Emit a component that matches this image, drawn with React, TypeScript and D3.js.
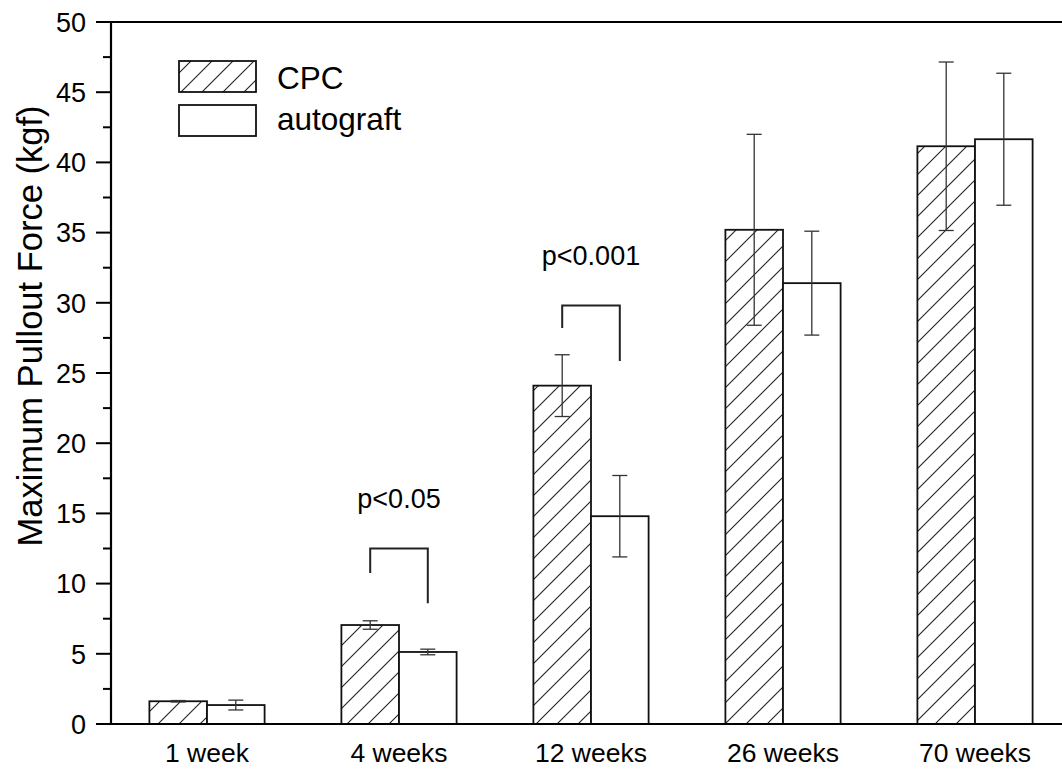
import React from 'react';
import * as d3 from 'd3';

// data
const weeks = ['1 week', '4 weeks', '12 weeks', '26 weeks', '70 weeks'];
const cpcMean = [1.62, 7.05, 24.1, 35.2, 41.15];
const cpcErr = [0.05, 0.3, 2.2, 6.8, 6.0];
const autoMean = [1.35, 5.13, 14.8, 31.4, 41.65];
const autoErr = [0.35, 0.2, 2.9, 3.7, 4.7];
const yTicks = [0, 5, 10, 15, 20, 25, 30, 35, 40, 45, 50];
const yMinor = [2.5, 7.5, 12.5, 17.5, 22.5, 27.5, 32.5, 37.5, 42.5, 47.5];
// significance brackets: category index, top, left end, right end, label
const sigIdx = [1, 2];
const sigTop = [12.5, 29.8];
const sigLeft = [10.75, 28.2];
const sigRight = [8.6, 25.85];
const sigLabel = ['p<0.05', 'p<0.001'];

const W = 1062;
const H = 769;
const margin = { top: 22, left: 111, bottom: 45 };
const plotW = 960;

export default function App() {
  const x = d3.scaleBand<string>()
    .domain(weeks)
    .range([margin.left, margin.left + plotW])
    .paddingInner(0.4)
    .paddingOuter(0.2);
  const y = d3.scaleLinear().domain([0, 50]).range([H - margin.bottom, margin.top]);
  const bw = x.bandwidth() / 2;
  const font = '"Liberation Sans", Arial, sans-serif';

  const bar = (i: number, k: number, v: number, e: number, hatch: boolean) => {
    const x0 = (x(weeks[i]) as number) + k * bw;
    const cx = x0 + bw / 2;
    return (
      <g key={`${i}-${k}`}>
        <rect x={x0} y={y(v)} width={bw} height={y(0) - y(v)}
          fill={hatch ? 'url(#hatch)' : '#fff'} stroke="#111" strokeWidth={1.8} />
        <g stroke="#333" strokeWidth={1.3}>
          <line x1={cx} x2={cx} y1={y(v + e)} y2={y(v - e)} />
          <line x1={cx - 7.5} x2={cx + 7.5} y1={y(v + e)} y2={y(v + e)} />
          <line x1={cx - 7.5} x2={cx + 7.5} y1={y(v - e)} y2={y(v - e)} />
        </g>
      </g>
    );
  };

  return (
    <svg width={W} height={H} style={{ position: 'absolute', left: 0, top: 0, background: '#fff' }}
      fontFamily={font}>
      <defs>
        <pattern id="hatch" patternUnits="userSpaceOnUse" width={21} height={21}>
          <rect width={21} height={21} fill="#fff" />
          <path d="M0,21 L21,0 M-5,5 L5,-5 M16,26 L26,16" stroke="#222" strokeWidth={1.1} />
        </pattern>
      </defs>

      {weeks.map((w, i) => bar(i, 0, cpcMean[i], cpcErr[i], true))}
      {weeks.map((w, i) => bar(i, 1, autoMean[i], autoErr[i], false))}

      {sigIdx.map((ci, j) => {
        const xl = (x(weeks[ci]) as number) + bw / 2;
        const xr = xl + bw;
        return (
          <g key={j}>
            <path d={`M${xl},${y(sigLeft[j])} V${y(sigTop[j])} H${xr} V${y(sigRight[j])}`}
              fill="none" stroke="#222" strokeWidth={2} />
            <text x={(xl + xr) / 2} y={y(sigTop[j]) - 41} textAnchor="middle" fontSize={27}>
              {sigLabel[j]}
            </text>
          </g>
        );
      })}

      {/* axes */}
      <line x1={margin.left} x2={W} y1={y(50)} y2={y(50)} stroke="#000" strokeWidth={2.2} />
      <line x1={margin.left} x2={W} y1={y(0)} y2={y(0)} stroke="#000" strokeWidth={2.2} />
      <line x1={margin.left} x2={margin.left} y1={y(0) + 1} y2={y(50) - 1} stroke="#000" strokeWidth={2.2} />
      {yTicks.map(t => (
        <g key={t}>
          <line x1={margin.left - 15} x2={margin.left} y1={y(t)} y2={y(t)} stroke="#000" strokeWidth={2} />
          <text x={margin.left - 25} y={y(t)} dy="0.36em" textAnchor="end" fontSize={27}>{t}</text>
        </g>
      ))}
      {yMinor.map(t => (
        <line key={t} x1={margin.left - 8} x2={margin.left} y1={y(t)} y2={y(t)} stroke="#000" strokeWidth={2} />
      ))}
      {weeks.map(w => (
        <text key={w} x={(x(w) as number) + bw} y={y(0) + 38} textAnchor="middle" fontSize={26.5}>{w}</text>
      ))}
      <text transform="translate(42,326) rotate(-90)" textAnchor="middle" fontSize={34.5}>
        Maximum Pullout Force (kgf)
      </text>

      {/* legend */}
      <rect x={179} y={61} width={77} height={31} fill="url(#hatch)" stroke="#111" strokeWidth={1.8} />
      <rect x={179} y={105} width={77} height={31} fill="#fff" stroke="#111" strokeWidth={1.8} />
      <text x={277} y={89} fontSize={31.5}>CPC</text>
      <text x={277} y={130} fontSize={31.5}>autograft</text>
    </svg>
  );
}
